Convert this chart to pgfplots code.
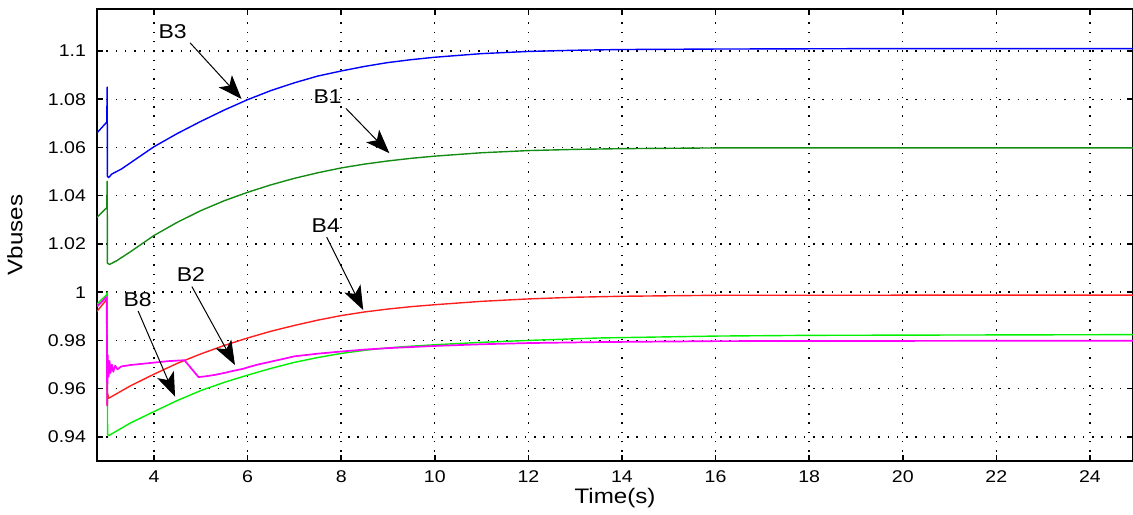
\documentclass[border=0pt]{standalone}
\usepackage{fontspec}
\setmainfont{Liberation Sans}[FakeStretch=1.15]
\usepackage{pgfplots}
\pgfplotsset{compat=1.18}
\usetikzlibrary{arrows.meta}
\definecolor{cB3}{RGB}{0,0,255}
\definecolor{cB1}{RGB}{20,140,20}
\definecolor{cB4}{RGB}{255,30,30}
\definecolor{cB8}{RGB}{0,240,0}
\definecolor{cB2}{RGB}{255,0,255}
\begin{document}
\begin{tikzpicture}
\begin{axis}[
  scale only axis, width=518pt, height=226pt,
  xmin=2.782, xmax=24.92, ymin=0.930, ymax=1.1174,
  xtick={4,6,8,10,12,14,16,18,20,22,24},
  xticklabels={4,6,8,10,12,14,16,18,20,22,24},
  ytick={0.94,0.96,0.98,1,1.02,1.04,1.06,1.08,1.1},
  yticklabels={0.94,0.96,0.98,1,1.02,1.04,1.06,1.08,1.1},
  grid=major,
  major grid style={black, line width=0.7pt, dash pattern=on 0.7pt off 3.95pt},
  tick align=inside, tick pos=both, major tick length=3pt,
  every tick/.style={black, line width=0.8pt},
  axis line style={black, line width=0.7pt},
  tick label style={font=\fontsize{8.5}{10}\selectfont},
  xticklabel style={yshift=-1.5pt},
  yticklabel style={xshift=-2pt},
  label style={font=\fontsize{10.5}{12}\selectfont},
  xlabel={Time(s)}, ylabel={Vbuses},
  xlabel style={at={(axis description cs:0.5,-0.082)}, anchor=center},
  ylabel style={at={(axis description cs:-0.0792,0.5)}, anchor=center, rotate=0},
  every axis plot/.append style={line width=0.7pt, line join=round},
]
% B3
\addplot[cB3] coordinates {(2.78,1.066)(2.99,1.0705)(3.0,1.085)(3.005,1.048)(3.03,1.0475)(3.1,1.049)(3.3,1.0510)(3.6,1.0550)(4,1.0603)(4.5,1.0658)(5,1.0708)(5.5,1.0755)(6,1.0798)(6.5,1.0836)(7,1.0868)(7.5,1.0896)(8,1.0917)(8.5,1.0936)(9,1.0952)(9.5,1.0964)(10,1.0974)(11,1.0989)(12,1.0998)(13,1.1003)(14,1.1006)(16,1.1008)(18,1.1009)(20,1.1010)(25,1.1010)};
% B1
\addplot[cB1] coordinates {(2.78,1.031)(2.99,1.035)(3.0,1.046)(3.005,1.012)(3.05,1.0115)(3.2,1.0130)(3.5,1.0168)(4,1.0235)(4.5,1.0290)(5,1.0338)(5.5,1.0379)(6,1.0414)(6.5,1.0445)(7,1.0472)(7.5,1.0495)(8,1.0515)(8.5,1.0531)(9,1.0544)(9.5,1.0555)(10,1.0564)(11,1.0578)(12,1.0587)(13,1.0592)(14,1.0595)(16,1.0598)(25,1.0598)};
% B4
\addplot[cB4] coordinates {(2.78,0.992)(2.99,0.997)(3.0,0.953)(3.01,0.958)(3.03,0.956)(3.5,0.9612)(4,0.9660)(4.5,0.9705)(5,0.9744)(5.5,0.9779)(6,0.9810)(6.5,0.9838)(7,0.9862)(7.5,0.9884)(8,0.9903)(8.5,0.9918)(9,0.9930)(9.5,0.9940)(10,0.9948)(11,0.9962)(12,0.9972)(13,0.9979)(14,0.9983)(16,0.9987)(25,0.9988)};
% B8
\addplot[cB8] coordinates {(2.78,0.995)(2.99,0.999)(3.0,1.0)(3.008,0.941)(3.03,0.9405)(3.5,0.9458)(4,0.9505)(4.5,0.9551)(5,0.9592)(5.5,0.9626)(6,0.9656)(6.5,0.9684)(7,0.9709)(7.5,0.9729)(8,0.9746)(8.5,0.9759)(9,0.9769)(9.5,0.9776)(10,0.9782)(11,0.9792)(12,0.9800)(13.5,0.9810)(16,0.9818)(18,0.9821)(25,0.9824)};
% B2
\addplot[cB2, line width=0.85pt] coordinates {(2.78,0.994)(2.99,0.998)(3.0,0.953)(3.01,0.974)(3.03,0.965)(3.05,0.9715)(3.07,0.9665)(3.1,0.970)(3.13,0.967)(3.17,0.9695)(3.22,0.968)(3.3,0.9692)(3.5,0.9698)(3.8,0.9704)(4.0,0.9708)(4.3,0.9714)(4.65,0.9718)(4.95,0.9648)(5.1,0.9651)(5.3,0.9657)(5.5,0.9665)(5.7,0.9674)(5.9,0.9682)(6.0,0.9688)(6.2,0.9699)(6.5,0.9712)(6.8,0.9725)(7,0.9734)(7.5,0.9745)(8,0.9754)(8.5,0.9762)(9,0.9768)(10,0.9777)(11,0.9784)(12,0.9789)(13.5,0.9793)(16,0.9797)(25,0.9799)};
% annotations
\tikzset{annarr/.style={line width=0.5pt, -{Stealth[length=12pt,width=9pt,inset=3pt]}}}
\node[font=\fontsize{10}{12}\selectfont] at (axis cs:4.40,1.1080) {B3};
\draw[annarr] (axis cs:4.77,1.1034) -- (axis cs:5.87,1.0801);
\node[font=\fontsize{10}{12}\selectfont] at (axis cs:7.71,1.0811) {B1};
\draw[annarr] (axis cs:8.10,1.0762) -- (axis cs:9.03,1.0576);
\node[font=\fontsize{10}{12}\selectfont] at (axis cs:7.67,1.0275) {B4};
\draw[annarr] (axis cs:7.69,1.0228) -- (axis cs:8.47,0.9926);
\node[font=\fontsize{10}{12}\selectfont] at (axis cs:4.79,1.0075) {B2};
\draw[annarr] (axis cs:4.81,1.0023) -- (axis cs:5.73,0.9698);
\node[font=\fontsize{10}{12}\selectfont] at (axis cs:3.65,0.9971) {B8};
\draw[annarr] (axis cs:3.66,0.9922) -- (axis cs:4.45,0.9567);
\end{axis}
\pgfresetboundingbox
\path ([xshift=-48.5pt,yshift=-26.5pt]current axis.south west) rectangle ([yshift=4.5pt]current axis.north east);
\end{tikzpicture}
\end{document}
